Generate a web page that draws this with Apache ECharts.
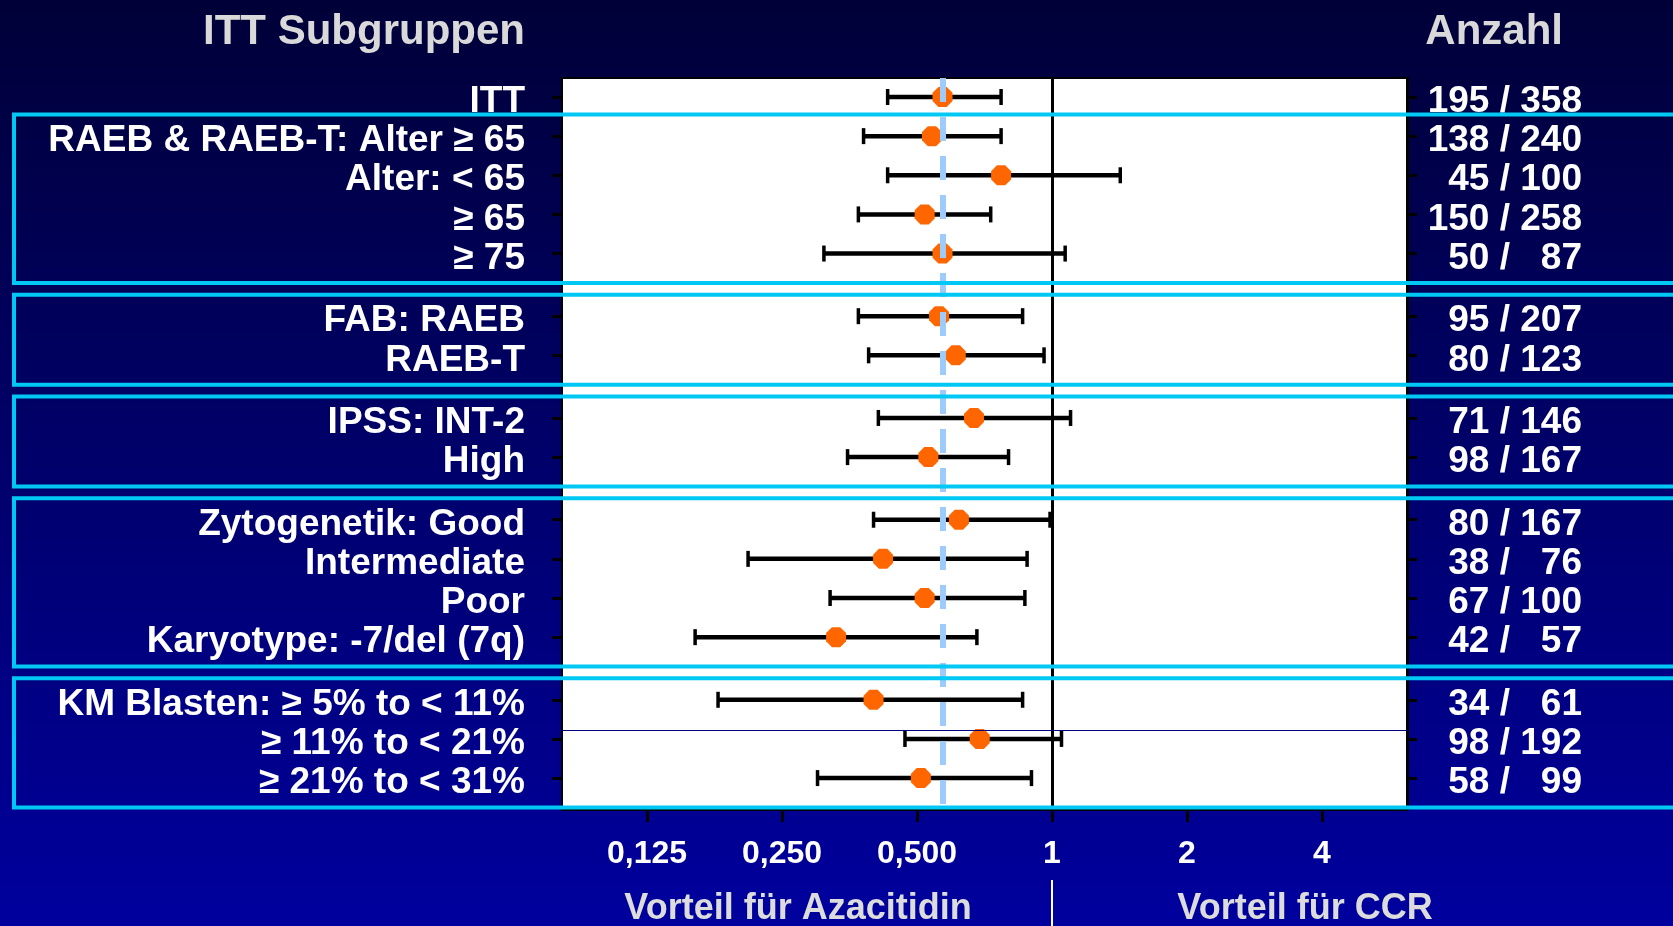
<!DOCTYPE html>
<html>
<head>
<meta charset="utf-8">
<title>ITT Subgruppen – Forest Plot</title>
<script src="https://cdn.jsdelivr.net/npm/echarts@6/dist/echarts.min.js"></script>
<style>
  html, body { margin: 0; padding: 0; }
  #chart { width: 1673px; height: 926px; }
</style>
</head>
<body>
<div id="chart"></div>
<script>
// Subgroup labels (left column)
const subgroups = [
  'ITT',
  'RAEB & RAEB-T: Alter ≥ 65',
  'Alter: < 65',
  '≥ 65',
  '≥ 75',
  'FAB: RAEB',
  'RAEB-T',
  'IPSS: INT-2',
  'High',
  'Zytogenetik: Good',
  'Intermediate',
  'Poor',
  'Karyotype: -7/del (7q)',
  'KM Blasten: ≥ 5% to < 11%',
  '≥ 11% to < 21%',
  '≥ 21% to < 31%'
];
// Subgroup family of each row (0 = overall ITT, 1..5 = framed families)
const families = [0, 1, 1, 1, 1, 2, 2, 3, 3, 4, 4, 4, 4, 5, 5, 5];

// Hazard ratios with 95% confidence limits
const hazardRatio = [0.57, 0.54, 0.77, 0.52, 0.57, 0.56, 0.61, 0.67, 0.53, 0.62, 0.42, 0.52, 0.33, 0.40, 0.69, 0.51];
const ciLower     = [0.43, 0.38, 0.43, 0.37, 0.31, 0.37, 0.39, 0.41, 0.35, 0.40, 0.21, 0.32, 0.16, 0.18, 0.47, 0.30];
const ciUpper     = [0.77, 0.77, 1.42, 0.73, 1.07, 0.86, 0.96, 1.10, 0.80, 0.99, 0.88, 0.87, 0.68, 0.86, 1.05, 0.90];

// Counts (right column): events / patients
const events   = [195, 138, 45, 150, 50, 95, 80, 71, 98, 80, 38, 67, 42, 34, 98, 58];
const patients = [358, 240, 100, 258, 87, 207, 123, 146, 167, 167, 76, 100, 57, 61, 192, 99];

// Overall ITT hazard ratio (dashed reference)
const overallHR = 0.57;

// Hazard-ratio axis ticks (log2 scale) and their labels
const tickValues = [0.125, 0.25, 0.5, 1, 2, 4];
const tickLabels = ['0,125', '0,250', '0,500', '1', '2', '4'];

// ---------------------------------------------------------------
const FONT = "'Liberation Sans', Arial, sans-serif";
const FAMILY_GAP = 0.6;             // extra space between framed families
const log2 = v => Math.log(v) / Math.LN2;

// Vertical slot of each row
const rowPos = subgroups.map((_, i) => i + FAMILY_GAP * Math.max(0, families[i] - 1));
const findRow = v => rowPos.findIndex(p => Math.abs(p - v) < 1e-6);

const countLabels = events.map((e, i) =>
  e + ' / ' + (patients[i] < 100 ? '  ' : '') + patients[i]);

// Frames around each family
const frames = [];
for (let f = 1; f <= 5; f++) {
  const rows = rowPos.filter((_, i) => families[i] === f);
  frames.push([rows[0], rows[rows.length - 1]]);
}

const chart = echarts.init(document.getElementById('chart'), null, { renderer: 'canvas' });

const yCommon = {
  type: 'value',
  inverse: true,
  min: -0.485,
  max: 18.19,
  splitLine: { show: false },
  axisTick: { show: true, customValues: rowPos, length: 10, inside: false,
              lineStyle: { color: '#000', width: 3 } }
};

// Row labels sit a little below their tick
const rowLabelStyle = {
  customValues: rowPos,
  color: '#ffffff',
  fontSize: 37,
  fontWeight: 'bold',
  fontFamily: FONT,
  verticalAlign: 'top',
  lineHeight: 10
};

const option = {
  backgroundColor: new echarts.graphic.LinearGradient(0, 0, 0, 1, [
    { offset: 0, color: '#000038' },
    { offset: 1, color: '#00009e' }
  ]),
  animation: false,
  textStyle: { fontFamily: FONT },
  grid: {
    left: 562, right: 266, top: 78, bottom: 117,
    show: true, backgroundColor: '#ffffff', borderColor: '#000', borderWidth: 2,
    containLabel: false
  },
  xAxis: {
    type: 'value',
    min: -3.63,
    max: 2.63,
    splitLine: { show: false },
    axisLine: { show: true, onZero: false, lineStyle: { color: '#000', width: 3 } },
    axisTick: { show: true, customValues: tickValues.map(log2), length: 13,
                lineStyle: { color: '#000', width: 3 } },
    axisLabel: {
      customValues: tickValues.map(log2),
      margin: 29,
      color: '#ffffff',
      fontSize: 32,
      fontWeight: 'bold',
      fontFamily: FONT,
      formatter: v => {
        const i = tickValues.findIndex(t => Math.abs(log2(t) - v) < 1e-6);
        return i >= 0 ? tickLabels[i] : '';
      }
    }
  },
  yAxis: [
    Object.assign({}, yCommon, {
      position: 'left',
      axisLine: { show: true, onZero: false, lineStyle: { color: '#000', width: 2 } },
      axisLabel: Object.assign({}, rowLabelStyle, {
        margin: 37,
        formatter: v => { const i = findRow(v); return i >= 0 ? subgroups[i] : ''; }
      })
    }),
    Object.assign({}, yCommon, {
      position: 'right',
      axisLine: { show: true, onZero: false, lineStyle: { color: '#000', width: 3 } },
      axisLabel: Object.assign({}, rowLabelStyle, {
        margin: 175,
        align: 'right',
        formatter: v => { const i = findRow(v); return i >= 0 ? countLabels[i] : ''; }
      })
    })
  ],
  series: [
    // Reference lines: overall HR (dashed), HR = 1, thin separator
    {
      type: 'line',
      data: [],
      z: 1,
      markLine: {
        silent: true,
        symbol: 'none',
        label: { show: false },
        data: [
          { xAxis: log2(overallHR),
            lineStyle: { color: '#9dcbfa', width: 6, type: [24, 15], opacity: 1 } },
          { xAxis: 0, lineStyle: { color: '#000', width: 3, type: 'solid' } },
          { yAxis: rowPos[14] - 0.22, lineStyle: { color: '#000080', width: 1, type: 'solid' } }
        ]
      }
    },
    // Confidence intervals
    {
      type: 'custom',
      z: 3,
      encode: { x: [0, 1], y: 2 },
      data: subgroups.map((_, i) => [log2(ciLower[i]), log2(ciUpper[i]), rowPos[i]]),
      renderItem: (params, api) => {
        const p1 = api.coord([api.value(0), api.value(2)]);
        const p2 = api.coord([api.value(1), api.value(2)]);
        const cap = 8;
        return {
          type: 'group',
          children: [
            { type: 'line', shape: { x1: p1[0], y1: p1[1], x2: p2[0], y2: p2[1] },
              style: { stroke: '#000', lineWidth: 4.5 } },
            { type: 'line', shape: { x1: p1[0], y1: p1[1] - cap, x2: p1[0], y2: p1[1] + cap },
              style: { stroke: '#000', lineWidth: 3.5 } },
            { type: 'line', shape: { x1: p2[0], y1: p2[1] - cap, x2: p2[0], y2: p2[1] + cap },
              style: { stroke: '#000', lineWidth: 3.5 } }
          ]
        };
      }
    },
    // Point estimates
    {
      type: 'scatter',
      z: 4,
      symbol: 'path://M29.3,0 L70.7,0 L100,29.3 L100,70.7 L70.7,100 L29.3,100 L0,70.7 L0,29.3 Z',
      symbolSize: 20,
      itemStyle: { color: '#ff6600', opacity: 1 },
      data: subgroups.map((_, i) => [log2(hazardRatio[i]), rowPos[i]])
    },
    // Frames around the subgroup families
    {
      type: 'custom',
      z: 5,
      clip: false,
      silent: true,
      encode: { y: [0, 1] },
      data: frames,
      renderItem: (params, api) => {
        const top = api.coord([0, api.value(0) - 0.55])[1];
        const bottom = api.coord([0, api.value(1) + 0.75])[1];
        return {
          type: 'rect',
          shape: { x: 14, y: top, width: 1700, height: bottom - top },
          style: { fill: 'none', stroke: '#00c8f5', lineWidth: 4 }
        };
      }
    }
  ]
};

chart.setOption(option);

// Headings, captions and the divider below the HR = 1 line
const xOne = chart.convertToPixel({ xAxisIndex: 0 }, 0);
chart.setOption({
  graphic: [
    { type: 'text', x: 525, y: 32,
      style: { text: 'ITT Subgruppen', fill: '#d9d9d9', font: 'bold 42px ' + FONT,
               textAlign: 'right', textVerticalAlign: 'middle' } },
    { type: 'text', x: 1563, y: 32,
      style: { text: 'Anzahl', fill: '#d9d9d9', font: 'bold 42px ' + FONT,
               textAlign: 'right', textVerticalAlign: 'middle' } },
    { type: 'text', x: 798, y: 909,
      style: { text: 'Vorteil für Azacitidin', fill: '#dcdcdc', font: 'bold 36px ' + FONT,
               textAlign: 'center', textVerticalAlign: 'middle' } },
    { type: 'text', x: 1305, y: 909,
      style: { text: 'Vorteil für CCR', fill: '#dcdcdc', font: 'bold 36px ' + FONT,
               textAlign: 'center', textVerticalAlign: 'middle' } },
    { type: 'line', shape: { x1: xOne, y1: 880, x2: xOne, y2: 926 },
      style: { stroke: '#ffffff', lineWidth: 2 } }
  ]
});
</script>
</body>
</html>
